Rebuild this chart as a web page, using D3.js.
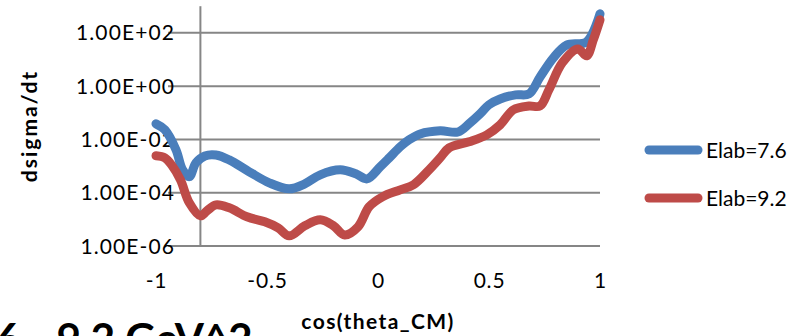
<!DOCTYPE html>
<html>
<head>
<meta charset="utf-8">
<script src="https://cdn.jsdelivr.net/npm/d3@7"></script>
<style>
  html, body { margin: 0; padding: 0; background: #fff; overflow: hidden; }
  svg { display: block; }
  text { font-family: Lato, "Open Sans", sans-serif; fill: #000; }
</style>
</head>
<body>
<svg id="chart" width="811" height="336"></svg>
<script>
// Differential cross section vs cos(theta_CM) for two lab energies
const cosThetaBlue = [-1.00, -0.96, -0.91, -0.88, -0.85, -0.82, -0.78, -0.73, -0.67, -0.58,
  -0.49, -0.40, -0.33, -0.26, -0.17, -0.10, -0.05, 0.01, 0.05, 0.10,
  0.14, 0.19, 0.28, 0.36, 0.41, 0.46, 0.50, 0.55, 0.62, 0.68,
  0.73, 0.79, 0.85, 0.94, 1.00];
const dsigmaElab76 = [3.85e-2, 2.3e-2, 4.1e-3, 7.2e-4, 4.0e-4, 1.33e-3, 2.4e-3, 2.6e-3, 1.7e-3, 6.1e-4,
  2.35e-4, 1.4e-4, 2.15e-4, 4.7e-4, 7.2e-4, 5.1e-4, 3.3e-4, 9.4e-4, 2.0e-3, 5.3e-3,
  9.7e-3, 1.6e-2, 2.1e-2, 1.9e-2, 3.85e-2, 9.1e-2, 0.2, 0.33, 0.47, 0.51,
  2.2, 11.5, 35, 46, 515];

const cosThetaRed = [-1.00, -0.96, -0.93, -0.89, -0.85, -0.80, -0.77, -0.73, -0.67, -0.59,
  -0.51, -0.45, -0.40, -0.33, -0.26, -0.20, -0.15, -0.09, -0.04, 0.02,
  0.10, 0.16, 0.23, 0.28, 0.32, 0.41, 0.49, 0.55, 0.61, 0.68,
  0.73, 0.77, 0.83, 0.90, 0.94, 0.97, 1.00];
const dsigmaElab92 = [2.43e-3, 2.04e-3, 1.11e-3, 3.05e-4, 4.2e-5, 1.36e-5, 2.1e-5, 3.5e-5, 2.7e-5, 1.25e-5,
  8.1e-6, 4.8e-6, 2.4e-6, 5.7e-6, 9.6e-6, 5.7e-6, 2.6e-6, 5.25e-6, 2.96e-5, 7.0e-5,
  1.28e-4, 2.0e-4, 7.2e-4, 2.04e-3, 4.8e-3, 8.1e-3, 1.48e-2, 3.5e-2, 0.13, 0.18,
  0.18, 0.73, 7.5, 25, 13.7, 55, 307];

const seriesNames = ["Elab=7.6", "Elab=9.2"];
const seriesColors = ["#4A7EBB", "#BE4B48"];
const xTicks = [-1, -0.5, 0, 0.5, 1];
const yTicks = [1e-6, 1e-4, 1e-2, 1e0, 1e2];
const yTickLabels = ["1.00E-06", "1.00E-04", "1.00E-02", "1.00E+00", "1.00E+02"];

const svg = d3.select("#chart");

const x = d3.scaleLinear().domain([-1, 1]).range([156, 600]);
const y = d3.scaleLog().domain([1e-6, 1e3]).range([246, 6.2]);
const gridLeft = 168;
const gridColor = "#868686";

// horizontal gridlines
svg.append("g")
  .selectAll("line")
  .data(yTicks)
  .join("line")
  .attr("x1", gridLeft).attr("x2", x(1))
  .attr("y1", d => y(d)).attr("y2", d => y(d))
  .attr("stroke", gridColor).attr("stroke-width", 2);

// vertical axis line
svg.append("line")
  .attr("x1", x(-0.8)).attr("x2", x(-0.8))
  .attr("y1", y(1e3)).attr("y2", y(1e-6))
  .attr("stroke", gridColor).attr("stroke-width", 2);

// y tick labels
svg.append("g")
  .selectAll("text")
  .data(yTicks)
  .join("text")
  .attr("x", 175)
  .attr("y", d => y(d))
  .attr("dy", "0.36em")
  .attr("text-anchor", "end")
  .style("font-size", "21px")
  .style("letter-spacing", "1.1px")
  .text((d, i) => yTickLabels[i]);

// x tick labels
const xAxis = d3.axisBottom(x).tickValues(xTicks).tickSize(0).tickPadding(0).tickFormat(d3.format("~g"));
const gx = svg.append("g").attr("transform", "translate(0,273)").call(xAxis);
gx.select(".domain").remove();
gx.selectAll("text")
  .attr("dy", "0.7em")
  .style("font-family", "Lato, 'Open Sans', sans-serif")
  .style("font-size", "21px")
  .style("letter-spacing", "0.8px")
  .attr("fill", "#000")
  .text(d => d < 0 ? "-" + Math.abs(d) : d);

// series lines
const line = d3.line()
  .x(d => x(d[0]))
  .y(d => y(d[1]))
  .curve(d3.curveCatmullRom.alpha(0.5));

const series = [
  d3.zip(cosThetaBlue, dsigmaElab76),
  d3.zip(cosThetaRed, dsigmaElab92)
];

svg.append("g")
  .selectAll("path")
  .data(series)
  .join("path")
  .attr("d", line)
  .attr("fill", "none")
  .attr("stroke", (d, i) => seriesColors[i])
  .attr("stroke-width", 9)
  .attr("stroke-linejoin", "round")
  .attr("stroke-linecap", "round");

// legend
const legend = svg.append("g")
  .selectAll("g")
  .data(seriesNames)
  .join("g")
  .attr("transform", (d, i) => `translate(0,${150 + i * 48})`);
legend.append("line")
  .attr("x1", 649).attr("x2", 698)
  .attr("y1", 0).attr("y2", 0)
  .attr("stroke", (d, i) => seriesColors[i])
  .attr("stroke-width", 9)
  .attr("stroke-linecap", "round");
legend.append("text")
  .attr("x", 706).attr("y", 0).attr("dy", "0.36em")
  .style("font-size", "21px")
  .text(d => d);

// axis titles
svg.append("text")
  .attr("transform", "translate(37,126) rotate(-90)")
  .attr("text-anchor", "middle")
  .style("font-size", "21px")
  .style("font-weight", "bold")
  .style("letter-spacing", "2px")
  .text("dsigma/dt");

svg.append("text")
  .attr("x", 378).attr("y", 329)
  .attr("text-anchor", "middle")
  .style("font-size", "21px")
  .style("font-weight", "bold")
  .style("letter-spacing", "1.4px")
  .text("cos(theta_CM)");

// energy range caption (runs past the bottom edge)
svg.append("text")
  .attr("x", -4).attr("y", 354)
  .style("font-size", "42px")
  .style("font-weight", "bold")
  .text("6 - 9.2 GeV^2");
</script>
</body>
</html>
